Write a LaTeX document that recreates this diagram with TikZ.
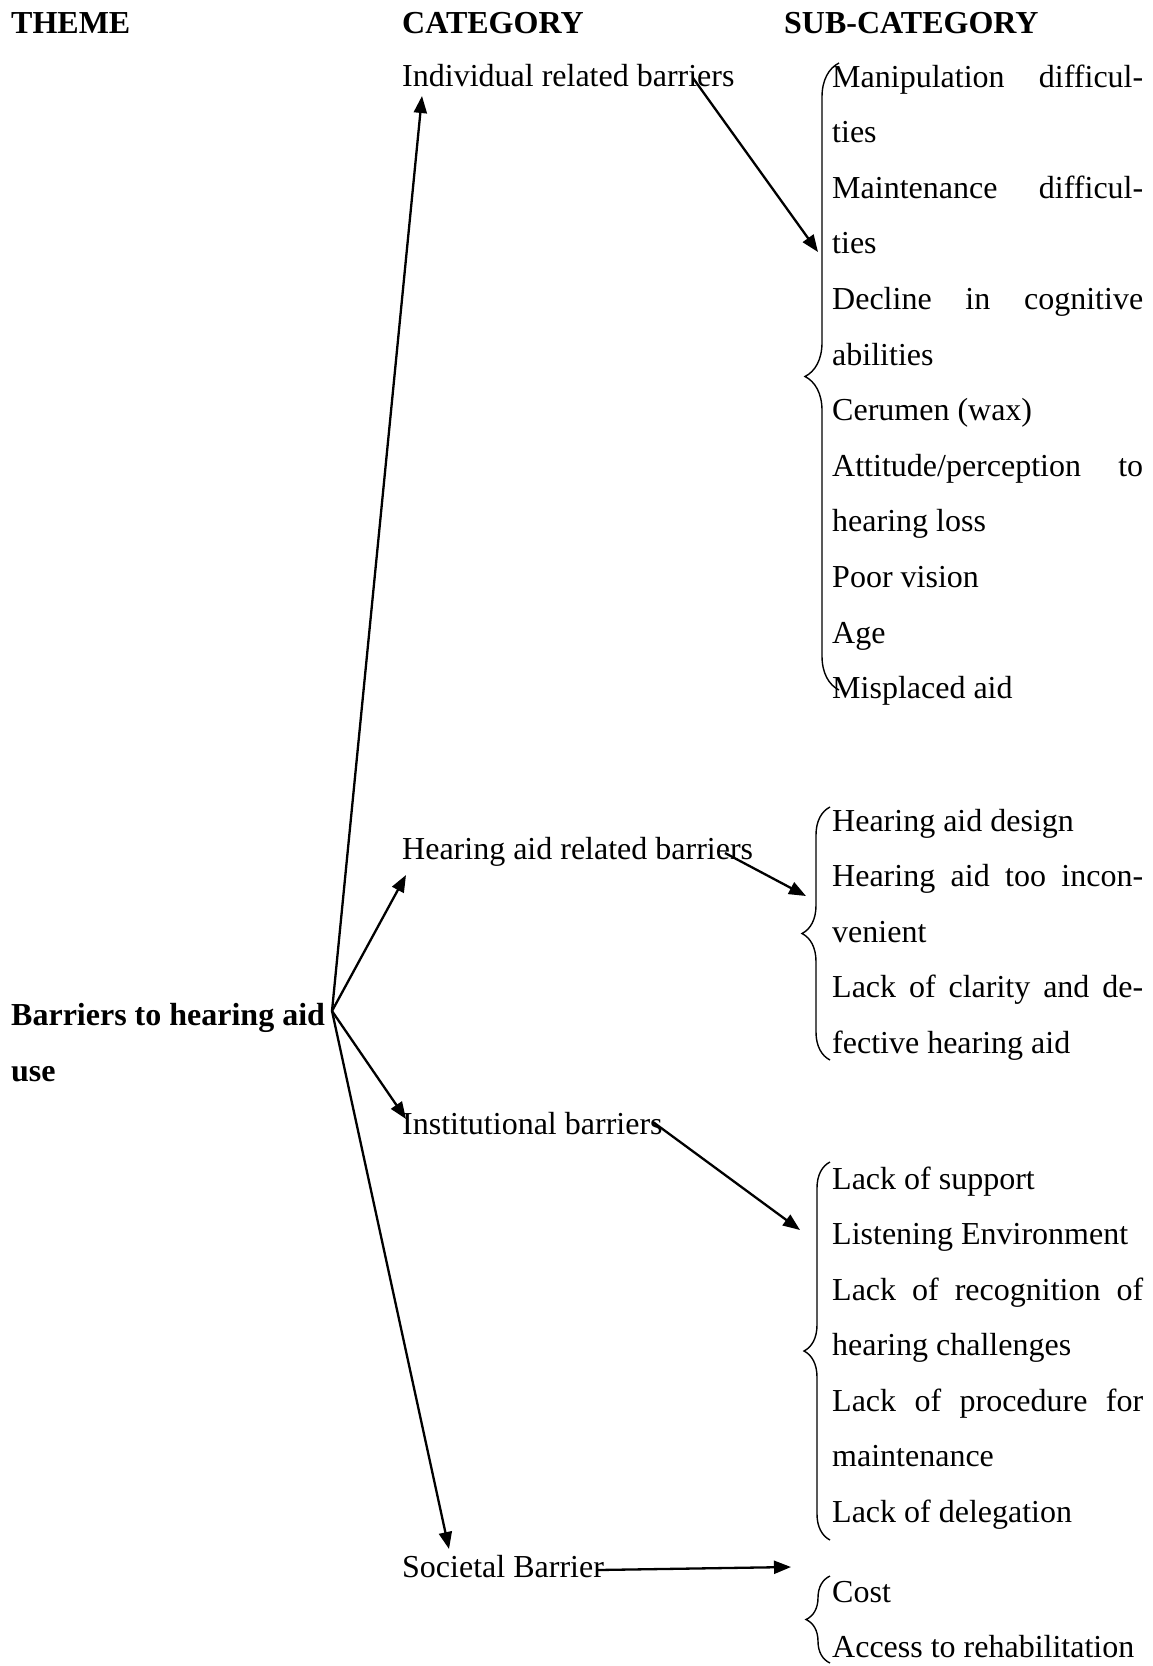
\documentclass[tikz,border=0pt]{standalone}
\usepackage{fontspec}
\setmainfont{Liberation Serif}
\usetikzlibrary{arrows.meta,decorations.pathreplacing}
\newcommand\justline[1]{\makebox[311pt][s]{#1}}
\begin{document}
\begin{tikzpicture}[x=1pt,y=-1pt,
  txt/.style={font=\fontsize{32}{40}\selectfont, inner sep=0pt, anchor=base west},
  hdr/.style={font=\fontsize{32}{40}\selectfont\bfseries, inner sep=0pt, anchor=base west},
  arr/.style={line width=2.3pt, -{Triangle[length=17pt,width=13pt]}},
  brc/.style={line width=1.4pt, decorate, decoration={brace, amplitude=#1}}]
\useasboundingbox[fill=white] (0,0) rectangle (1153,1666);

% headers
\node[hdr] (hTheme) at (11,33) {THEME};
\node[hdr] (hCat) at (402,33) {CATEGORY};
\node[hdr] (hSub) at (784,33) {SUB-CATEGORY};

% theme
\node[hdr] (theme) at (11,1025) {Barriers to hearing aid};
\node[hdr] (theme2) at (11,1081) {use};

% categories
\node[txt] (ind) at (402,86) {Individual related barriers};
\node[txt] (hear) at (402,859) {Hearing aid related barriers};
\node[txt] (inst) at (402,1134) {Institutional barriers};
\node[txt] (soc) at (402,1577) {Societal Barrier};

% group 1
\node[txt] (a1) at (832,87) {\justline{Manipulation difficul-}};
\node[txt] (a2) at (832,142.6) {ties};
\node[txt] (a3) at (832,198.2) {\justline{Maintenance difficul-}};
\node[txt] (a4) at (832,253.8) {ties};
\node[txt] (a5) at (832,309.4) {\justline{Decline in cognitive}};
\node[txt] (a6) at (832,365) {abilities};
\node[txt] (a7) at (832,420.6) {Cerumen (wax)};
\node[txt] (a8) at (832,476.2) {\justline{Attitude/perception to}};
\node[txt] (a9) at (832,531.8) {hearing loss};
\node[txt] (a10) at (832,587.4) {Poor vision};
\node[txt] (a11) at (832,643) {Age};
\node[txt] (a12) at (832,698.6) {Misplaced aid};

% group 2
\node[txt] (b1) at (832,831) {Hearing aid design};
\node[txt] (b2) at (832,886.5) {\justline{Hearing aid too incon-}};
\node[txt] (b3) at (832,942) {venient};
\node[txt] (b4) at (832,997.5) {\justline{Lack of clarity and de-}};
\node[txt] (b5) at (832,1053) {fective hearing aid};

% group 3
\node[txt] (c1) at (832,1189) {Lack of support};
\node[txt] (c2) at (832,1244.5) {Listening Environment};
\node[txt] (c3) at (832,1300) {\justline{Lack of recognition of}};
\node[txt] (c4) at (832,1355.5) {hearing challenges};
\node[txt] (c5) at (832,1411) {\justline{Lack of procedure for}};
\node[txt] (c6) at (832,1466.5) {maintenance};
\node[txt] (c7) at (832,1522) {Lack of delegation};

% group 4
\node[txt] (d1) at (832,1602) {Cost};
\node[txt] (d2) at (832,1657) {Access to rehabilitation};

% braces
\draw[brc=34] (839,690) -- (839,63);
\draw[brc=28] (830,1060) -- (830,807);
\draw[brc=26] (830,1540) -- (830,1162);
\draw[brc=24] (830,1663) -- (830,1576);

% arrow ends
\coordinate (hub) at (332,1011);
\coordinate (indIn) at (422,96);
\coordinate (hearIn) at (406,875);
\coordinate (instIn) at (406,1119);
\coordinate (socIn) at (449,1549);
\coordinate (indOut) at (693,78);
\coordinate (hearOut) at (725,853);
\coordinate (instOut) at (653,1122);
\coordinate (socOut) at (598,1570);
\coordinate (g1) at (818,252);
\coordinate (g2) at (806,896);
\coordinate (g3) at (800,1230);
\coordinate (g4) at (791,1567);

\draw[arr] (hub) -- (indIn);
\draw[arr] (hub) -- (hearIn);
\draw[arr] (hub) -- (instIn);
\draw[arr] (hub) -- (socIn);
\draw[arr] (indOut) -- (g1);
\draw[arr] (hearOut) -- (g2);
\draw[arr] (instOut) -- (g3);
\draw[arr] (socOut) -- (g4);
\end{tikzpicture}
\end{document}
